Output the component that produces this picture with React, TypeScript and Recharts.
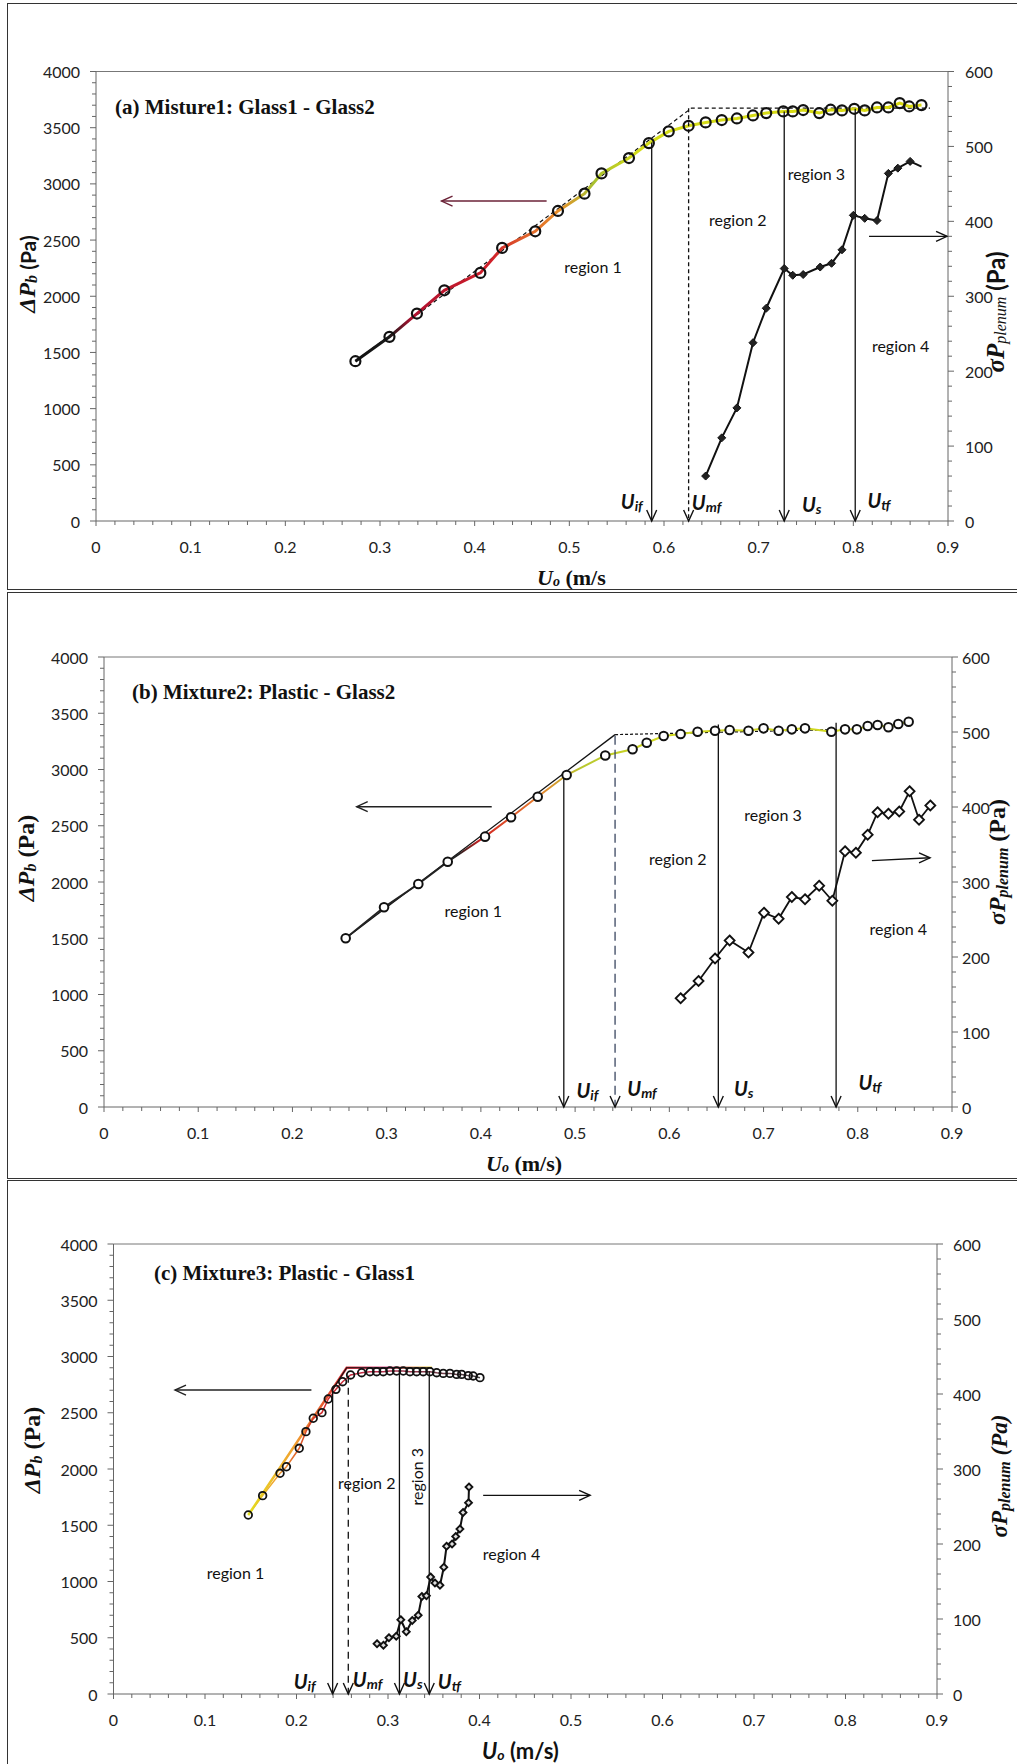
import React from 'react';
import { ComposedChart, Line, XAxis, YAxis, ReferenceDot, ReferenceLine } from 'recharts';

const SERIF = '"Liberation Serif", "Times New Roman", serif';
const SANS = 'Lato, "Open Sans", "Liberation Sans", sans-serif';

// shared tick labels and annotation names
const xTickLabels = ['0', '0.1', '0.2', '0.3', '0.4', '0.5', '0.6', '0.7', '0.8', '0.9'];
const leftTickLabels = [0, 500, 1000, 1500, 2000, 2500, 3000, 3500, 4000];
const rightTickLabels = [0, 100, 200, 300, 400, 500, 600];
const markSubs = ['if', 'mf', 's', 'tf'];
const regionNames = ['region 1', 'region 2', 'region 3', 'region 4'];

// (a) Misture1: Glass1 - Glass2
const aDpU = [0.274, 0.31, 0.339, 0.368, 0.406, 0.429, 0.464, 0.488, 0.516, 0.534, 0.563, 0.584, 0.605, 0.626, 0.644, 0.661, 0.677, 0.694, 0.708, 0.726, 0.736, 0.747, 0.764, 0.776, 0.788, 0.801, 0.812, 0.825, 0.837, 0.849, 0.859, 0.872];
const aDpP = [1422, 1639, 1846, 2053, 2208, 2430, 2578, 2759, 2913, 3093, 3230, 3363, 3467, 3517, 3547, 3568, 3582, 3609, 3630, 3645, 3645, 3657, 3630, 3660, 3654, 3668, 3654, 3680, 3680, 3719, 3689, 3701];
const aSigU = [0.644, 0.661, 0.677, 0.694, 0.708, 0.727, 0.736, 0.747, 0.765, 0.777, 0.788, 0.8, 0.812, 0.825, 0.837, 0.847, 0.86, 0.872];
const aSigP = [60, 111, 151, 238, 284, 337, 328, 329, 339, 344, 362, 408, 404, 401, 464, 471, 480, 473];
const aFitU = [0.274, 0.629, 0.881];
const aFitP = [1422, 3674, 3674];
const aMarkU = [0.587, 0.626, 0.727, 0.802];
const aMarkTop = [3369, 3674, 3645, 3668];
const aMarkLabelU = [0.566, 0.645, 0.756, 0.827];
const aMarkLabelP = [178, 165, 150, 190];
const aRegionU = [0.525, 0.678, 0.761, 0.85];
const aRegionP = [2267, 2680, 3088, 1562];

// (b) Mixture2: Plastic - Glass2
const bDpU = [0.2565, 0.2972, 0.3336, 0.3648, 0.4044, 0.432, 0.4603, 0.491, 0.532, 0.561, 0.576, 0.594, 0.612, 0.63, 0.6485, 0.664, 0.684, 0.7, 0.716, 0.73, 0.744, 0.772, 0.7865, 0.799, 0.8105, 0.821, 0.8325, 0.843, 0.854];
const bDpP = [1500, 1775, 1982, 2180, 2403, 2575, 2758, 2951, 3125, 3180, 3238, 3298, 3316, 3336, 3345, 3351, 3345, 3366, 3345, 3357, 3366, 3336, 3357, 3357, 3387, 3395, 3375, 3405, 3425];
const bSigU = [0.612, 0.631, 0.6485, 0.664, 0.684, 0.7005, 0.716, 0.73, 0.744, 0.759, 0.773, 0.7865, 0.798, 0.8105, 0.821, 0.8325, 0.844, 0.855, 0.865, 0.877];
const bSigP = [145, 168, 198, 222, 206, 259, 251, 280, 277, 295, 275, 341, 339, 363, 393, 391, 394, 421, 383, 402];
const bFitU = [0.2565, 0.5424];
const bFitP = [1500, 3310];
const bFlatU = [0.5424, 0.778];
const bFlatP = [3310, 3355];
const bMarkU = [0.488, 0.5424, 0.652, 0.777];
const bMarkTop = [2951, 3300, 3400, 3415];
const bMarkLabelU = [0.513, 0.571, 0.679, 0.813];
const bMarkLabelP = [151, 169, 169, 225];
const bRegionU = [0.392, 0.609, 0.71, 0.843];
const bRegionP = [1751, 2213, 2604, 1591];

// (c) Mixture3: Plastic - Glass1
const cDpU = [0.1473, 0.163, 0.182, 0.189, 0.203, 0.2103, 0.2183, 0.2278, 0.2347, 0.2431, 0.2504, 0.2591, 0.2712, 0.2803, 0.2876, 0.2948, 0.3021, 0.3094, 0.3167, 0.324, 0.3313, 0.3385, 0.3458, 0.3532, 0.3604, 0.3677, 0.375, 0.3805, 0.3877, 0.3931, 0.4005];
const cDpP = [1591, 1763, 1962, 2020, 2184, 2332, 2451, 2501, 2622, 2708, 2776, 2836, 2856, 2865, 2865, 2865, 2871, 2871, 2871, 2865, 2865, 2865, 2865, 2856, 2850, 2850, 2841, 2841, 2830, 2827, 2812];
const cSigU = [0.288, 0.295, 0.301, 0.309, 0.314, 0.32, 0.3265, 0.333, 0.337, 0.342, 0.3466, 0.3513, 0.3568, 0.361, 0.364, 0.37, 0.374, 0.3786, 0.382, 0.388, 0.3885];
const cSigP = [67, 65, 75, 77, 99, 83, 98, 105, 130, 131, 156, 148, 145, 169, 197, 200, 210, 220, 242, 255, 276];
const cFitU = [0.1473, 0.2548, 0.348];
const cFitP = [1591, 2900, 2900];
const cTopU = [0.2395, 0.2548, 0.348];
const cTopP = [2705, 2900, 2900];
const cMarkU = [0.2395, 0.2566, 0.3125, 0.3451];
const cMarkTop = [2702, 2830, 2870, 2870];
const cMarkLabelU = [0.209, 0.2777, 0.3272, 0.367];
const cMarkLabelP = [116, 133, 133, 116];
const cRegionU = [0.1333, 0.2767, 0.3313, 0.4349];
const cRegionP = [1076, 1878, 1932, 1253];

type Pt = { x: number; y: number };
const pts = (u: number[], p: number[]): Pt[] => u.map((x, i) => ({ x, y: p[i] }));

const xAllTicks = Array.from({ length: 46 }, (_, i) => (i * 2) / 100);
const leftAllTicks = Array.from({ length: 41 }, (_, i) => i * 100);
const rightAllTicks = Array.from({ length: 31 }, (_, i) => i * 20);

const AXIS = '#666';

const xTick = (p: any) => {
  const v = p.payload.value as number;
  const k = Math.round(v * 10);
  const major = Math.abs(v * 10 - k) < 1e-6;
  return (
    <g>
      <line x1={p.x} x2={p.x} y1={p.y} y2={p.y + (major ? 5 : 4)} stroke={AXIS} />
      {major && (
        <text x={p.x} y={p.y + 25} textAnchor="middle" dominantBaseline="central" fontFamily={SANS} fontSize={16} fill="#222">
          {xTickLabels[k]}
        </text>
      )}
    </g>
  );
};

const leftTick = (p: any) => {
  const v = p.payload.value as number;
  const i = leftTickLabels.indexOf(v);
  return (
    <g>
      <line x1={p.x} x2={p.x - (i >= 0 ? 6 : 4)} y1={p.y} y2={p.y} stroke={AXIS} />
      {i >= 0 && (
        <text x={p.x - 16} y={p.y} textAnchor="end" dominantBaseline="central" fontFamily={SANS} fontSize={16} fill="#222">
          {leftTickLabels[i]}
        </text>
      )}
    </g>
  );
};

const rightTick = (gap: number) => (p: any) => {
  const v = p.payload.value as number;
  const i = rightTickLabels.indexOf(v);
  return (
    <g>
      <line x1={p.x} x2={p.x + (i >= 0 ? 6 : 4)} y1={p.y} y2={p.y} stroke={AXIS} />
      {i >= 0 && (
        <text x={p.x + gap} y={p.y} textAnchor="start" dominantBaseline="central" fontFamily={SANS} fontSize={16} fill="#222">
          {rightTickLabels[i]}
        </text>
      )}
    </g>
  );
};

const circleDot = (r: number, sw: number, fill: string) => (p: any) => (
  <circle key={`c${p.index}`} cx={p.cx} cy={p.cy} r={r} fill={fill} stroke="#111" strokeWidth={sw} />
);

const diamondDot = (s: number, fill: string, sw: number, skip: number) => (p: any) =>
  p.index === skip ? (
    <g key={`d${p.index}`} />
  ) : (
    <path
      key={`d${p.index}`}
      d={`M${p.cx},${p.cy - s}L${p.cx + s},${p.cy}L${p.cx},${p.cy + s}L${p.cx - s},${p.cy}Z`}
      fill={fill}
      stroke="#111"
      strokeWidth={sw}
    />
  );

const arrowDot = (dir: string, color: string) => (p: any) => {
  if (p.index !== 1) return <g key={`h${p.index}`} />;
  const { cx, cy } = p;
  const d =
    dir === 'down'
      ? `M${cx - 5},${cy - 11}L${cx},${cy}L${cx + 5},${cy - 11}`
      : dir === 'left'
      ? `M${cx + 11},${cy - 5}L${cx},${cy}L${cx + 11},${cy + 5}`
      : `M${cx - 11},${cy - 5}L${cx},${cy}L${cx - 11},${cy + 5}`;
  return <path key="h1" d={d} fill="none" stroke={color} strokeWidth={1.4} />;
};

const markText = (sub: string) => (p: any) => (
  <text x={p.cx} y={p.cy} textAnchor="middle" dominantBaseline="central" fontFamily={SANS} fontWeight="bold" fontStyle="italic" fill="#111">
    <tspan fontSize={20}>U</tspan>
    <tspan fontSize={14} dy={4}>{sub}</tspan>
  </text>
);

const regionText = (name: string, rot: boolean) => (p: any) => (
  <text
    x={p.cx}
    y={p.cy}
    textAnchor="middle"
    dominantBaseline="central"
    fontFamily={SANS}
    fontSize={16}
    fill="#111"
    transform={rot ? `rotate(-90 ${p.cx} ${p.cy})` : undefined}
  >
    {name}
  </text>
);

type Seg = { t: string; f: string; s: number; it?: boolean; b?: boolean; dy?: number };
type Fit = { pts: Pt[]; color: string; width: number; dash?: string };
type Arrow = { u: number[]; p: number[]; color: string };

type Cfg = {
  id: string;
  top: number;
  height: number;
  margin: { top: number; right: number; bottom: number; left: number };
  rightGap: number;
  grads: { id: string; stops: [number, string][] }[];
  dp: Pt[];
  dpWidth: number;
  dot: [number, number, string];
  sig: Pt[];
  sigWidth: number;
  diamond: [number, string, number, number];
  fits: Fit[];
  markU: number[];
  markTop: number[];
  markDash: (string | undefined)[];
  markColor: string[];
  markLabelU: number[];
  markLabelP: number[];
  regionU: number[];
  regionP: number[];
  regionRot: boolean[];
  arrows: Arrow[];
  title: string;
  titlePos: [number, number];
  xTitle: Seg[];
  xTitlePos: [number, number];
  leftTitle: Seg[];
  leftPos: [number, number];
  rightTitle: Seg[];
  rightPos: [number, number];
};

const renderSegs = (segs: Seg[]) =>
  segs.map((g, i) => (
    <tspan
      key={i}
      fontFamily={g.f}
      fontSize={g.s}
      fontStyle={g.it ? 'italic' : 'normal'}
      fontWeight={g.b ? 'bold' : 'normal'}
      dy={g.dy || 0}
    >
      {g.t}
    </tspan>
  ));

const panels: Cfg[] = [
  {
    id: 'a',
    top: 0,
    height: 590,
    margin: { top: 71.5, right: 9, bottom: 19, left: 36 },
    rightGap: 17,
    grads: [
      {
        id: 'a-dp',
        stops: [[0, '#111'], [0.06, '#1a1a1a'], [0.1, '#b01030'], [0.24, '#d0202a'], [0.3, '#e0602a'], [0.36, '#e8902a'], [0.42, '#a8c030'], [0.5, '#d4dc18'], [1, '#dada10']],
      },
    ],
    dp: pts(aDpU, aDpP),
    dpWidth: 3,
    dot: [5, 2.2, 'none'],
    sig: pts(aSigU, aSigP),
    sigWidth: 2,
    diamond: [4, '#222', 1, aSigU.length - 1],
    fits: [{ pts: pts(aFitU, aFitP), color: '#111', width: 1.2, dash: '4 3' }],
    markU: aMarkU,
    markTop: aMarkTop,
    markDash: [undefined, '4 3', undefined, undefined],
    markColor: ['#111', '#111', '#111', '#111'],
    markLabelU: aMarkLabelU,
    markLabelP: aMarkLabelP,
    regionU: aRegionU,
    regionP: aRegionP,
    regionRot: [false, false, false, false],
    arrows: [
      { u: [0.476, 0.365], p: [2847, 2847], color: '#6b2237' },
      { u: [0.8166, 0.899], p: [2533, 2533], color: '#111' },
    ],
    title: '(a) Misture1: Glass1 - Glass2',
    titlePos: [115, 107],
    xTitle: [
      { t: 'U', f: SERIF, s: 22, it: true, b: true },
      { t: 'o', f: SERIF, s: 14, it: true, b: true, dy: 4 },
      { t: ' (m/s', f: SERIF, s: 22, b: true, dy: -4 },
    ],
    xTitlePos: [537, 577],
    leftTitle: [
      { t: 'ΔP', f: SERIF, s: 24, it: true, b: true },
      { t: 'b', f: SERIF, s: 16, it: true, b: true, dy: 4 },
      { t: ' (Pa)', f: SANS, s: 21, b: true, dy: -4 },
    ],
    leftPos: [27, 274],
    rightTitle: [
      { t: 'σP', f: SERIF, s: 25, it: true, b: true },
      { t: 'plenum', f: SERIF, s: 16, it: true, dy: 5 },
      { t: ' (Pa)', f: SANS, s: 24, b: true, dy: -5 },
    ],
    rightPos: [995, 312],
  },
  {
    id: 'b',
    top: 590,
    height: 590,
    margin: { top: 67, right: 5, bottom: 23, left: 44 },
    rightGap: 10,
    grads: [
      {
        id: 'b-dp',
        stops: [[0, '#222'], [0.2, '#222'], [0.24, '#d02020'], [0.34, '#e88030'], [0.42, '#b8c830'], [0.55, '#d0d820'], [1, '#d0d820']],
      },
    ],
    dp: pts(bDpU, bDpP),
    dpWidth: 2,
    dot: [4.3, 2, '#fff'],
    sig: pts(bSigU, bSigP),
    sigWidth: 1.8,
    diamond: [5, '#fff', 1.8, -1],
    fits: [
      { pts: pts(bFitU, bFitP), color: '#111', width: 1.3 },
      { pts: pts(bFlatU, bFlatP), color: '#111', width: 1.2, dash: '3 2' },
    ],
    markU: bMarkU,
    markTop: bMarkTop,
    markDash: [undefined, '9 5', undefined, undefined],
    markColor: ['#111', '#3a4660', '#111', '#111'],
    markLabelU: bMarkLabelU,
    markLabelP: bMarkLabelP,
    regionU: bRegionU,
    regionP: bRegionP,
    regionRot: [false, false, false, false],
    arrows: [
      { u: [0.4115, 0.2682], p: [2669, 2669], color: '#222' },
      { u: [0.815, 0.8767], p: [2190, 2215], color: '#111' },
    ],
    title: '(b) Mixture2: Plastic - Glass2',
    titlePos: [132, 102],
    xTitle: [
      { t: 'U', f: SERIF, s: 22, it: true, b: true },
      { t: 'o', f: SERIF, s: 14, it: true, b: true, dy: 4 },
      { t: ' (m/s)', f: SERIF, s: 22, b: true, dy: -4 },
    ],
    xTitlePos: [486, 573],
    leftTitle: [
      { t: 'ΔP', f: SERIF, s: 24, it: true, b: true },
      { t: 'b', f: SERIF, s: 16, it: true, b: true, dy: 4 },
      { t: ' (Pa)', f: SERIF, s: 24, b: true, dy: -4 },
    ],
    leftPos: [26, 268],
    rightTitle: [
      { t: 'σP', f: SERIF, s: 24, it: true, b: true },
      { t: 'plenum', f: SERIF, s: 16, it: true, b: true, dy: 5 },
      { t: ' (Pa)', f: SERIF, s: 24, b: true, dy: -5 },
    ],
    rightPos: [997, 272],
  },
  {
    id: 'c',
    top: 1180,
    height: 584,
    margin: { top: 64, right: 20, bottom: 20, left: 53.5 },
    rightGap: 16,
    grads: [
      { id: 'c-dp', stops: [[0, '#e0e020'], [0.12, '#f0a030'], [0.3, '#d02828'], [0.55, '#c03050'], [1, '#444']] },
      { id: 'c-fit', stops: [[0, '#e8e020'], [0.25, '#f0a030'], [0.5, '#e03030'], [0.75, '#e05090'], [1, '#e8d040']] },
    ],
    dp: pts(cDpU, cDpP),
    dpWidth: 1.5,
    dot: [3.8, 1.8, 'none'],
    sig: pts(cSigU, cSigP),
    sigWidth: 2,
    diamond: [3.5, '#ddd', 1.8, -1],
    fits: [
      { pts: pts(cFitU, cFitP), color: 'url(#c-fit)', width: 2.5 },
      { pts: pts(cTopU, cTopP), color: '#111', width: 1.2 },
    ],
    markU: cMarkU,
    markTop: cMarkTop,
    markDash: [undefined, '7 5', undefined, undefined],
    markColor: ['#111', '#111', '#111', '#111'],
    markLabelU: cMarkLabelU,
    markLabelP: cMarkLabelP,
    regionU: cRegionU,
    regionP: cRegionP,
    regionRot: [false, false, true, false],
    arrows: [
      { u: [0.2163, 0.0672], p: [2702, 2702], color: '#222' },
      { u: [0.404, 0.5209], p: [1766, 1766], color: '#111' },
    ],
    title: '(c) Mixture3: Plastic - Glass1',
    titlePos: [154, 93],
    xTitle: [
      { t: 'U', f: SANS, s: 22, it: true, b: true },
      { t: 'o', f: SANS, s: 14, it: true, b: true, dy: 4 },
      { t: ' (m/s)', f: SANS, s: 22, b: true, dy: -4 },
    ],
    xTitlePos: [482, 570],
    leftTitle: [
      { t: 'ΔP', f: SERIF, s: 24, it: true, b: true },
      { t: 'b', f: SERIF, s: 16, it: true, b: true, dy: 4 },
      { t: ' (Pa)', f: SERIF, s: 24, b: true, dy: -4 },
    ],
    leftPos: [32, 270],
    rightTitle: [
      { t: 'σP', f: SERIF, s: 23, it: true, b: true },
      { t: 'plenum', f: SERIF, s: 16, it: true, b: true, dy: 5 },
      { t: ' (Pa)', f: SERIF, s: 23, it: true, b: true, dy: -5 },
    ],
    rightPos: [999, 296],
  },
];

function Panel({ c }: { c: Cfg }) {
  return (
    <div style={{ position: 'absolute', left: 0, top: c.top, width: 1017, height: c.height }}>
      <ComposedChart width={1017} height={c.height} margin={c.margin}>
        <defs>
          {c.grads.map((g) => (
            <linearGradient key={g.id} id={g.id} x1="0" y1="0" x2="1" y2="0">
              {g.stops.map(([o, col], i) => (
                <stop key={i} offset={o} stopColor={col} />
              ))}
            </linearGradient>
          ))}
        </defs>
        <XAxis
          type="number"
          dataKey="x"
          domain={[0, 0.9]}
          ticks={xAllTicks}
          interval={0}
          tickSize={0}
          tickMargin={0}
          tickLine={false}
          tick={xTick}
          axisLine={{ stroke: AXIS }}
          height={50}
        />
        <YAxis
          yAxisId="left"
          type="number"
          domain={[0, 4000]}
          ticks={leftAllTicks}
          interval={0}
          tickSize={0}
          tickMargin={0}
          tickLine={false}
          tick={leftTick}
          axisLine={{ stroke: AXIS }}
          width={60}
        />
        <YAxis
          yAxisId="right"
          orientation="right"
          type="number"
          domain={[0, 600]}
          ticks={rightAllTicks}
          interval={0}
          tickSize={0}
          tickMargin={0}
          tickLine={false}
          tick={rightTick(c.rightGap)}
          axisLine={{ stroke: AXIS }}
          width={60}
        />
        <ReferenceLine yAxisId="left" y={4000} stroke="#777" />
        {c.fits.map((f, i) => (
          <Line
            key={`fit${i}`}
            yAxisId="left"
            data={f.pts}
            dataKey="y"
            type="linear"
            stroke={f.color}
            strokeWidth={f.width}
            strokeDasharray={f.dash}
            dot={false}
            activeDot={false}
            isAnimationActive={false}
          />
        ))}
        <Line
          yAxisId="left"
          data={c.dp}
          dataKey="y"
          type="linear"
          stroke={`url(#${c.id}-dp)`}
          strokeWidth={c.dpWidth}
          dot={circleDot(c.dot[0], c.dot[1], c.dot[2])}
          activeDot={false}
          isAnimationActive={false}
        />
        <Line
          yAxisId="right"
          data={c.sig}
          dataKey="y"
          type="linear"
          stroke="#111"
          strokeWidth={c.sigWidth}
          dot={diamondDot(c.diamond[0], c.diamond[1], c.diamond[2], c.diamond[3])}
          activeDot={false}
          isAnimationActive={false}
        />
        {c.markU.map((u, i) => (
          <Line
            key={`mk${i}`}
            yAxisId="left"
            data={[{ x: u, y: c.markTop[i] }, { x: u, y: 0 }]}
            dataKey="y"
            type="linear"
            stroke={c.markColor[i]}
            strokeWidth={1.3}
            strokeDasharray={c.markDash[i]}
            dot={arrowDot('down', '#111')}
            activeDot={false}
            isAnimationActive={false}
          />
        ))}
        {c.arrows.map((a, i) => (
          <Line
            key={`ar${i}`}
            yAxisId="left"
            data={pts(a.u, a.p)}
            dataKey="y"
            type="linear"
            stroke={a.color}
            strokeWidth={1.4}
            dot={arrowDot(a.u[1] < a.u[0] ? 'left' : 'right', a.color)}
            activeDot={false}
            isAnimationActive={false}
          />
        ))}
        {c.markLabelU.map((u, i) => (
          <ReferenceDot key={`ml${i}`} yAxisId="left" x={u} y={c.markLabelP[i]} r={1} ifOverflow="visible" shape={markText(markSubs[i])} />
        ))}
        {c.regionU.map((u, i) => (
          <ReferenceDot
            key={`rg${i}`}
            yAxisId="left"
            x={u}
            y={c.regionP[i]}
            r={1}
            ifOverflow="visible"
            shape={regionText(regionNames[i], c.regionRot[i])}
          />
        ))}
      </ComposedChart>
      <svg width={1017} height={c.height} style={{ position: 'absolute', left: 0, top: 0, pointerEvents: 'none' }}>
        <text x={c.titlePos[0]} y={c.titlePos[1]} dominantBaseline="central" fontFamily={SERIF} fontWeight="bold" fontSize={21} fill="#111">
          {c.title}
        </text>
        <text x={c.xTitlePos[0]} y={c.xTitlePos[1]} dominantBaseline="central" fill="#111">
          {renderSegs(c.xTitle)}
        </text>
        <text
          x={c.leftPos[0]}
          y={c.leftPos[1]}
          textAnchor="middle"
          dominantBaseline="central"
          fill="#111"
          transform={`rotate(-90 ${c.leftPos[0]} ${c.leftPos[1]})`}
        >
          {renderSegs(c.leftTitle)}
        </text>
        <text
          x={c.rightPos[0]}
          y={c.rightPos[1]}
          textAnchor="middle"
          dominantBaseline="central"
          fill="#111"
          transform={`rotate(-90 ${c.rightPos[0]} ${c.rightPos[1]})`}
        >
          {renderSegs(c.rightTitle)}
        </text>
      </svg>
    </div>
  );
}

export default function App() {
  return (
    <div style={{ position: 'absolute', left: 0, top: 0, width: 1017, height: 1764, overflow: 'hidden', background: '#fff' }}>
      <div style={{ position: 'absolute', left: 7, top: 3, width: 1040, height: 585, border: '1.5px solid #333' }} />
      <div style={{ position: 'absolute', left: 7, top: 591.5, width: 1040, height: 585, border: '1.5px solid #333' }} />
      <div style={{ position: 'absolute', left: 7, top: 1179.5, width: 1040, height: 600, border: '1.5px solid #333' }} />
      {panels.map((c) => (
        <Panel key={c.id} c={c} />
      ))}
    </div>
  );
}
